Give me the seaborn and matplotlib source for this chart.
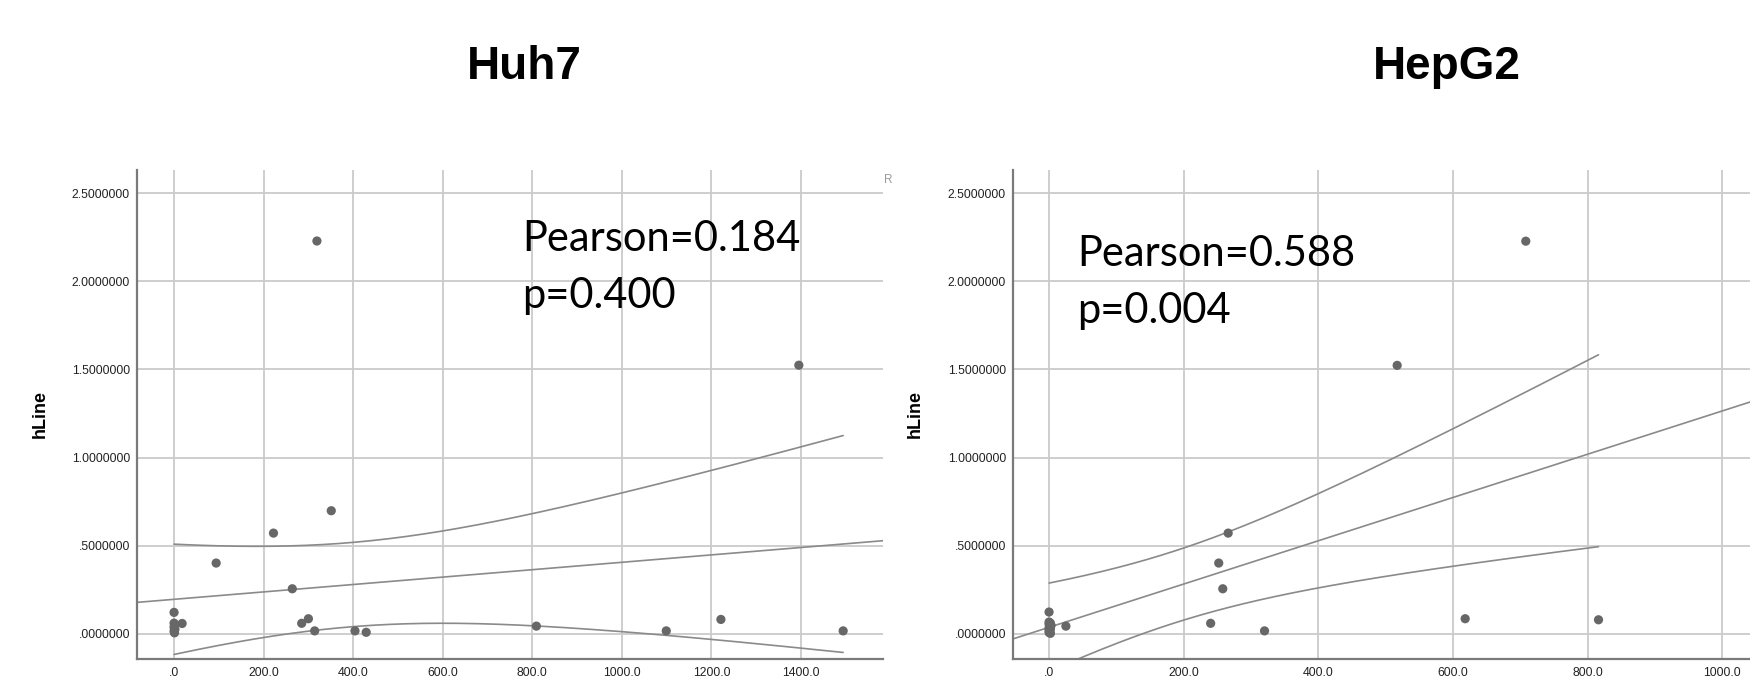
"""
SPSS 스타일 산점도 + 선형회귀선 + 평균 95% 신뢰구간 (Huh7 / HepG2)
"""

import numpy as np
import pandas as pd
import matplotlib
matplotlib.use("Agg")
import matplotlib.pyplot as plt
import seaborn as sns

# -----------------------------
# 데이터
# -----------------------------
huh7_x = [319, 1395, 351, 222, 94, 264, 0, 18, 285, 300, 314, 404, 429, 809,
          1099, 1221, 1494, 0, 1, 0, 2, 0, 1]
huh7_y = [2.229, 1.524, 0.698, 0.571, 0.401, 0.255, 0.121, 0.058, 0.059, 0.085,
          0.016, 0.016, 0.008, 0.043, 0.016, 0.081, 0.016, 0.060, 0.048, 0.036,
          0.025, 0.014, 0.005]

hepg2_x = [708, 517, 266, 252, 258, 240, 320, 618, 816, 25, 0,
           0, 2, 0, 3, 1, 0, 2, 0, 1, 0, 2]
hepg2_y = [2.228, 1.523, 0.571, 0.401, 0.255, 0.059, 0.016, 0.085, 0.079, 0.043,
           0.123, 0.066, 0.060, 0.054, 0.047, 0.040, 0.033, 0.026, 0.019, 0.012,
           0.007, 0.002]

titles = ["Huh7", "HepG2"]
stat_lines = [["Pearson=0.184", "p=0.400"], ["Pearson=0.588", "p=0.004"]]
y_label = "hLine"
x_ticks = [[0, 200, 400, 600, 800, 1000, 1200, 1400], [0, 200, 400, 600, 800, 1000]]
y_ticks = [0.0, 0.5, 1.0, 1.5, 2.0, 2.5]

# 양측 95% t 임계값 (df = n - 2)
T_CRIT = {20: 2.086, 21: 2.080}

# -----------------------------
# 스타일
# -----------------------------
W, H = 1750, 695
POINT_COLOR = "#676767"
LINE_COLOR = "#8a8a8a"
GRID_COLOR = "#cacaca"
SPINE_COLOR = "#7a7a7a"


def fit_with_ci(x, y, grid):
    """최소제곱 직선 + 평균에 대한 95% 신뢰구간."""
    x = np.asarray(x, float)
    y = np.asarray(y, float)
    n = len(x)
    xm, ym = x.mean(), y.mean()
    sxx = ((x - xm) ** 2).sum()
    slope = ((x - xm) * (y - ym)).sum() / sxx
    icpt = ym - slope * xm
    resid = y - (icpt + slope * x)
    s = np.sqrt((resid ** 2).sum() / (n - 2))
    se = s * np.sqrt(1.0 / n + (grid - xm) ** 2 / sxx)
    hw = T_CRIT[n - 2] * se
    yhat = icpt + slope * grid
    return icpt, slope, yhat - hw, yhat + hw


def fmt_y(v, _pos=None):
    s = f"{v:.7f}"
    return s[1:] if s.startswith("0.") else s


def fmt_x(v, _pos=None):
    s = f"{v:.1f}"
    return s[1:] if s.startswith("0.") else s


def draw_panel(ax, x, y, xlim, xt, stats, text_xy):
    df = pd.DataFrame({"x": x, "y": y})
    ax.set_xlim(*xlim)
    ax.set_ylim(-0.1436, 2.632)

    # 격자
    ax.set_xticks(xt)
    ax.set_yticks(y_ticks)
    ax.grid(True, color=GRID_COLOR, lw=1.3, zorder=0)
    ax.set_axisbelow(True)

    # 회귀선(축 전체) + 신뢰구간(데이터 범위)
    full = np.linspace(xlim[0], xlim[1], 50)
    icpt, slope, _, _ = fit_with_ci(x, y, full)
    sns.lineplot(x=full, y=icpt + slope * full, ax=ax, color=LINE_COLOR,
                 lw=1.2, estimator=None, sort=False, zorder=2)
    grid = np.linspace(min(x), max(x), 200)
    _, _, lo, hi = fit_with_ci(x, y, grid)
    for band in (lo, hi):
        sns.lineplot(x=grid, y=band, ax=ax, color=LINE_COLOR, lw=1.2,
                     estimator=None, sort=False, zorder=2)

    sns.scatterplot(data=df, x="x", y="y", ax=ax, color=POINT_COLOR, s=44,
                    edgecolor="none", zorder=3, clip_on=False)

    ax.xaxis.set_major_formatter(plt.FuncFormatter(fmt_x))
    ax.yaxis.set_major_formatter(plt.FuncFormatter(fmt_y))
    ax.tick_params(length=0, labelsize=8.8, labelcolor="#222222")
    ax.tick_params(axis="y", pad=4.8)
    ax.tick_params(axis="x", pad=5.5)
    for lab in ax.get_xticklabels() + ax.get_yticklabels():
        lab.set_family("Liberation Sans")

    for side in ("top", "right"):
        ax.spines[side].set_visible(False)
    for side in ("left", "bottom"):
        ax.spines[side].set_color(SPINE_COLOR)
        ax.spines[side].set_linewidth(1.6)

    ax.set_xlabel("")
    ax.set_ylabel(y_label, fontsize=13, fontweight="bold", family="Liberation Sans",
                  color="black")

    tx, ty = text_xy
    ax.text(tx, ty, stats[0], fontsize=30, family="Lato", va="baseline", ha="left",
            color="black")
    ax.text(tx, ty - 0.326, stats[1], fontsize=30, family="Lato", va="baseline",
            ha="left", color="black")


def main():
    sns.set_theme(style="white")
    plt.rcParams["font.family"] = ["Liberation Sans", "DejaVu Sans"]

    fig = plt.figure(figsize=(W / 100, H / 100), dpi=100)
    ax1 = fig.add_axes([136.7 / W, 1 - 659 / H, (883.3 - 136.7) / W, (659 - 170) / H])
    ax2 = fig.add_axes([1012.7 / W, 1 - 659 / H, (1750 - 1012.7) / W, (659 - 170) / H])

    draw_panel(ax1, huh7_x, huh7_y, (-83.4, 1583.6), x_ticks[0], stat_lines[0], (778, 2.174))
    draw_panel(ax2, hepg2_x, hepg2_y, (-54, 1041), x_ticks[1], stat_lines[1], (42, 2.089))
    ax1.yaxis.set_label_coords(-0.1175, 0.5)
    ax2.yaxis.set_label_coords(-0.1203, 0.5)

    fig.text(524 / W, 1 - 79.3 / H, titles[0], ha="center", va="baseline",
             fontsize=33, fontweight="bold", color="black")
    fig.text(1447 / W, 1 - 79.3 / H, titles[1], ha="center", va="baseline",
             fontsize=33, fontweight="bold", color="black")
    fig.text(884 / W, 1 - 180 / H, "R", ha="left", va="center", fontsize=8.5,
             color="#9a9a9a")

    fig.savefig("out.png", dpi=100, facecolor="white")
    plt.close(fig)


if __name__ == "__main__":
    main()
